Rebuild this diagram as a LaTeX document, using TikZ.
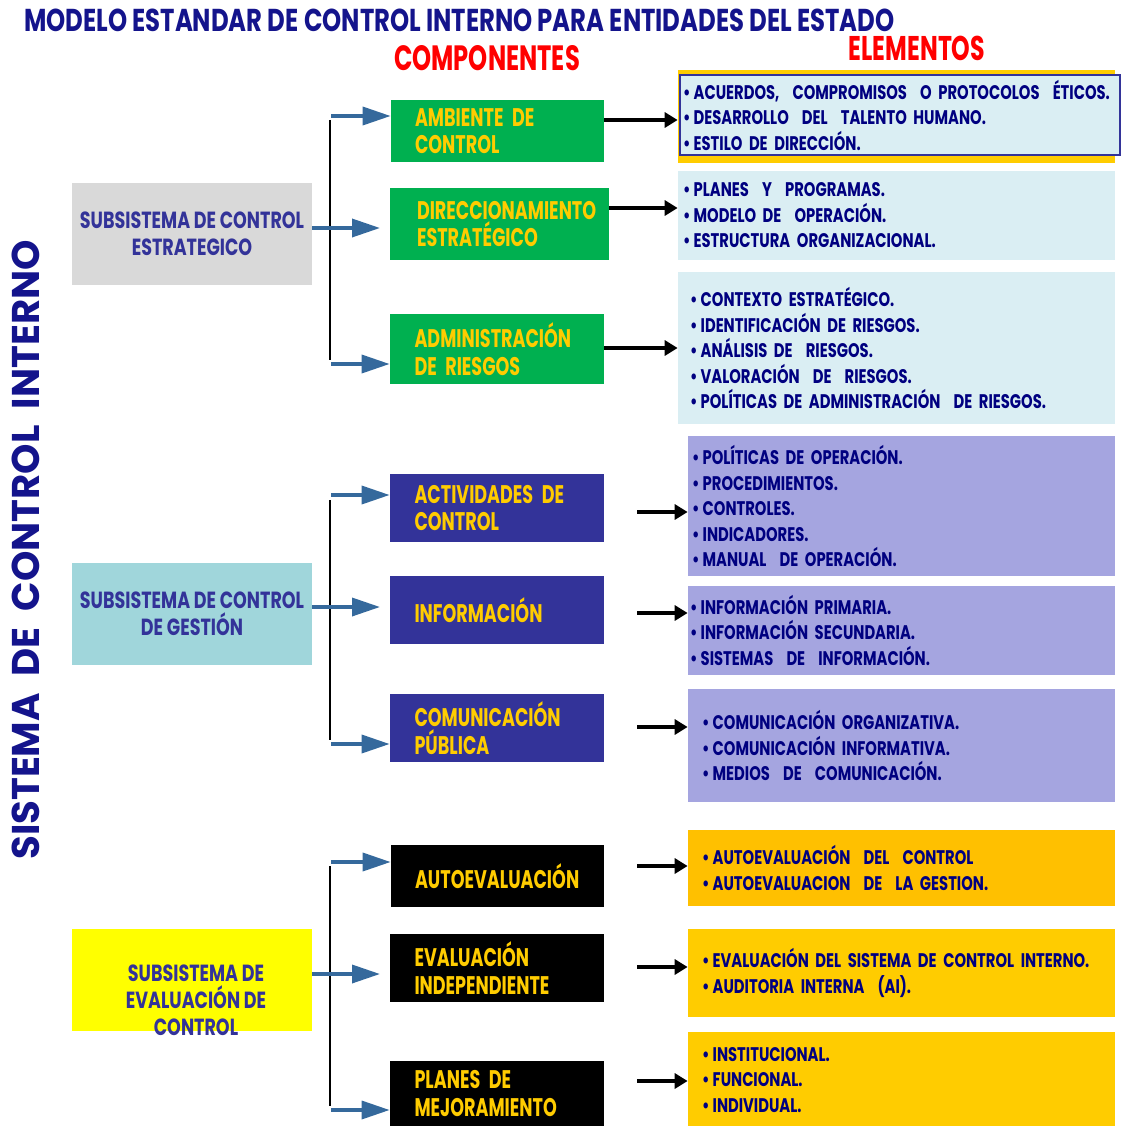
\documentclass[tikz,border=0pt]{standalone}
\usepackage{fontspec}
\setmainfont{Poppins}[FakeStretch=0.75]
\newfontfamily\compfont{Poppins}[FakeStretch=0.69]
\newfontfamily\titlefont{Poppins}[FakeStretch=0.77]
\newfontfamily\fullfont{Poppins}
\usetikzlibrary{arrows.meta}
\definecolor{titlenavy}{HTML}{14148C}
\definecolor{elemnavy}{HTML}{000080}
\definecolor{subnavy}{HTML}{333399}
\definecolor{compnavy}{HTML}{333399}
\definecolor{compgreen}{HTML}{00B050}
\definecolor{compgold}{HTML}{FFCC00}
\definecolor{subgray}{HTML}{D9D9D9}
\definecolor{subteal}{HTML}{A0D6DB}
\definecolor{subyellow}{HTML}{FFFF00}
\definecolor{elemblue}{HTML}{DAEEF3}
\definecolor{elemlilac}{HTML}{A5A5E0}
\definecolor{elemorange}{HTML}{FFC000}
\definecolor{elemgold}{HTML}{FFCC00}
\definecolor{arrowblue}{HTML}{35699C}
\tikzset{
  sz/.style 2 args={minimum width=#1*0.02cm, minimum height=#2*0.02cm},
  subbox/.style={inner sep=0pt, align=center, text=subnavy,
    font=\fontsize{13.3}{15.3}\selectfont\bfseries},
  compbox/.style={inner xsep=0.48cm, inner ysep=0pt, align=left,
    text width=3.3cm, text=compgold, font=\compfont\fontsize{14.5}{15.7}\selectfont\bfseries},
  elembox/.style n args={3}{minimum width=#1*0.02cm, minimum height=#2*0.02cm,
    inner xsep=#3*0.02cm, inner ysep=0pt, text width=(#1-2*#3)*0.02cm, align=left,
    text=elemnavy, font=\fontsize{11.2}{14.5}\selectfont\bfseries},
  bluearr/.style={draw=arrowblue, line width=2pt, -{Triangle[length=0.56cm, width=0.36cm]}},
  blkarr/.style={line width=2pt, -{Triangle[length=0.26cm, width=0.3cm]}},
  bus/.style={line width=1.3pt},
}
\begin{document}
\begin{tikzpicture}[x=0.02cm, y=-0.02cm]
\useasboundingbox (0,0) rectangle (1121,1126);
% Titles
\node[anchor=west, text=titlenavy, font=\titlefont\fontsize{18}{18}\selectfont\bfseries] (title) at (18,20)
  {MODELO ESTANDAR DE CONTROL INTERNO PARA ENTIDADES DEL ESTADO};
\node[text=red, font=\compfont\fontsize{20}{20}\selectfont\bfseries] (comptitle) at (487,58) {COMPONENTES};
\node[text=red, font=\compfont\fontsize{19.5}{20}\selectfont\bfseries] (elemtitle) at (917,48) {ELEMENTOS};
\node[rotate=90, text=titlenavy, font=\fullfont\fontsize{22}{23}\selectfont\bfseries] (sci) at (26,550)
  {SISTEMA\ \ DE\ \ CONTROL\ \ INTERNO};
% Subsystems
\node[subbox, fill=subgray, sz={240}{102}] (s1) at (192,234) {SUBSISTEMA DE CONTROL\\ESTRATEGICO};
\node[subbox, fill=subteal, sz={240}{102}] (s2) at (192,614) {SUBSISTEMA DE CONTROL\\DE GESTIÓN};
\node[subbox, fill=subyellow, sz={240}{102}] (s3) at (192,980) {};
\node[subbox] (s3text) at (196,1000) {SUBSISTEMA DE\\EVALUACIÓN DE\\CONTROL};
% Components
\node[compbox, fill=compgreen, sz={213}{62}] (c1) at (497.5,131) {AMBIENTE DE\\CONTROL};
\node[compbox, fill=compgreen, sz={219}{72}] (c2) at (499.5,224) {DIRECCIONAMIENTO\\ESTRATÉGICO};
\node[compbox, fill=compgreen, sz={214}{70}] (c3) at (497,349) {ADMINISTRACIÓN\\DE RIESGOS};
\node[compbox, fill=compnavy, sz={214}{68}] (c4) at (497,508) {ACTIVIDADES DE\\CONTROL};
\node[compbox, fill=compnavy, sz={214}{68}] (c5) at (497,610) {INFORMACIÓN};
\node[compbox, fill=compnavy, sz={214}{68}] (c6) at (497,728) {COMUNICACIÓN\\PÚBLICA};
\node[compbox, fill=black, sz={213}{62}] (c7) at (497.5,876) {AUTOEVALUACIÓN};
\node[compbox, fill=black, sz={214}{68}] (c8) at (497,968) {EVALUACIÓN\\INDEPENDIENTE};
\node[compbox, fill=black, sz={214}{65}] (c9) at (497,1093.5) {PLANES DE\\MEJORAMIENTO};
% Elements
\node[fill=elemgold, sz={437}{93}, inner sep=0pt] (e1) at (896.5,116.5) {};
\node[elembox={440}{80}{3}, fill=elemblue, draw=subnavy, line width=1.2pt] (e1in) at (900,115)
  {\textbullet\,ACUERDOS,\ \ COMPROMISOS\ \ O PROTOCOLOS\ \ ÉTICOS.\\
   \textbullet\,DESARROLLO\ \ DEL\ \ TALENTO HUMANO.\\
   \textbullet\,ESTILO DE DIRECCIÓN.};
\node[elembox={437}{89}{5}, fill=elemblue] (e2) at (896.5,215.5)
  {\textbullet\,PLANES\ \ Y\ \ PROGRAMAS.\\
   \textbullet\,MODELO DE\ \ OPERACIÓN.\\
   \textbullet\,ESTRUCTURA ORGANIZACIONAL.};
\node[elembox={437}{152}{12}, fill=elemblue] (e3) at (896.5,348)
  {\textbullet\,CONTEXTO ESTRATÉGICO.\\
   \textbullet\,IDENTIFICACIÓN DE RIESGOS.\\
   \textbullet\,ANÁLISIS DE\ \ RIESGOS.\\
   \textbullet\,VALORACIÓN\ \ DE\ \ RIESGOS.\\
   \textbullet\,POLÍTICAS DE ADMINISTRACIÓN\ \ DE RIESGOS.};
\node[elembox={427}{140}{4}, fill=elemlilac] (e4) at (901.5,506)
  {\textbullet\,POLÍTICAS DE OPERACIÓN.\\
   \textbullet\,PROCEDIMIENTOS.\\
   \textbullet\,CONTROLES.\\
   \textbullet\,INDICADORES.\\
   \textbullet\,MANUAL\ \ DE OPERACIÓN.};
\node[elembox={427}{89}{2}, fill=elemlilac] (e5) at (901.5,630)
  {\textbullet\,INFORMACIÓN PRIMARIA.\\
   \textbullet\,INFORMACIÓN SECUNDARIA.\\
   \textbullet\,SISTEMAS\ \ DE\ \ INFORMACIÓN.};
\node[elembox={427}{113}{14}, fill=elemlilac] (e6) at (901.5,745.5)
  {\textbullet\,COMUNICACIÓN ORGANIZATIVA.\\
   \textbullet\,COMUNICACIÓN INFORMATIVA.\\
   \textbullet\,MEDIOS\ \ DE\ \ COMUNICACIÓN.};
\node[elembox={427}{76}{14}, fill=elemorange] (e7) at (901.5,868)
  {\textbullet\,AUTOEVALUACIÓN\ \ DEL\ \ CONTROL\\
   \textbullet\,AUTOEVALUACION\ \ DE\ \ LA GESTION.};
\node[elembox={427}{88}{14}, fill=elemgold] (e8) at (901.5,973)
  {\textbullet\,EVALUACIÓN DEL SISTEMA DE CONTROL INTERNO.\\
   \textbullet\,AUDITORIA INTERNA\ \ (AI).};
\node[elembox={427}{96}{14}, fill=elemgold] (e9) at (901.5,1080)
  {\textbullet\,INSTITUCIONAL.\\
   \textbullet\,FUNCIONAL.\\
   \textbullet\,INDIVIDUAL.};
% Bus lines and blue arrows
\coordinate (t1) at (331,116); \coordinate (m1) at (380,228); \coordinate (u1) at (331,364);
\coordinate (t2) at (331,495); \coordinate (m2) at (380,607); \coordinate (u2) at (331,744);
\coordinate (t3) at (331,862); \coordinate (m3) at (380,974); \coordinate (u3) at (331,1110);
\draw[bus] (330,120) -- (330,360);
\draw[bus] (330,500) -- (330,740);
\draw[bus] (330,866) -- (330,1106);
\draw[bluearr] (t1) -- (t1 -| c1.west);
\draw[bluearr] (s1.east |- m1) -- (m1);
\draw[bluearr] (u1) -- (u1 -| c3.west);
\draw[bluearr] (t2) -- (t2 -| c4.west);
\draw[bluearr] (s2.east |- m2) -- (m2);
\draw[bluearr] (u2) -- (u2 -| c6.west);
\draw[bluearr] (t3) -- (t3 -| c7.west);
\draw[bluearr] (s3.east |- m3) -- (m3);
\draw[bluearr] (u3) -- (u3 -| c9.west);
% Black arrows
\coordinate (k1) at (0,120); \coordinate (k2) at (0,208); \coordinate (k3) at (0,348);
\coordinate (k4) at (0,512); \coordinate (k5) at (0,613); \coordinate (k6) at (0,727);
\coordinate (k7) at (0,866); \coordinate (k8) at (0,967); \coordinate (k9) at (0,1081);
\draw[blkarr] (c1.east |- k1) -- (e1.west |- k1);
\draw[blkarr] (c2.east |- k2) -- (e2.west |- k2);
\draw[blkarr] (c3.east |- k3) -- (e3.west |- k3);
\draw[blkarr, shorten <=0.66cm] (c4.east |- k4) -- (e4.west |- k4);
\draw[blkarr, shorten <=0.66cm] (c5.east |- k5) -- (e5.west |- k5);
\draw[blkarr, shorten <=0.66cm] (c6.east |- k6) -- (e6.west |- k6);
\draw[blkarr, shorten <=0.66cm] (c7.east |- k7) -- (e7.west |- k7);
\draw[blkarr, shorten <=0.66cm] (c8.east |- k8) -- (e8.west |- k8);
\draw[blkarr, shorten <=0.66cm] (c9.east |- k9) -- (e9.west |- k9);
\end{tikzpicture}
\end{document}
